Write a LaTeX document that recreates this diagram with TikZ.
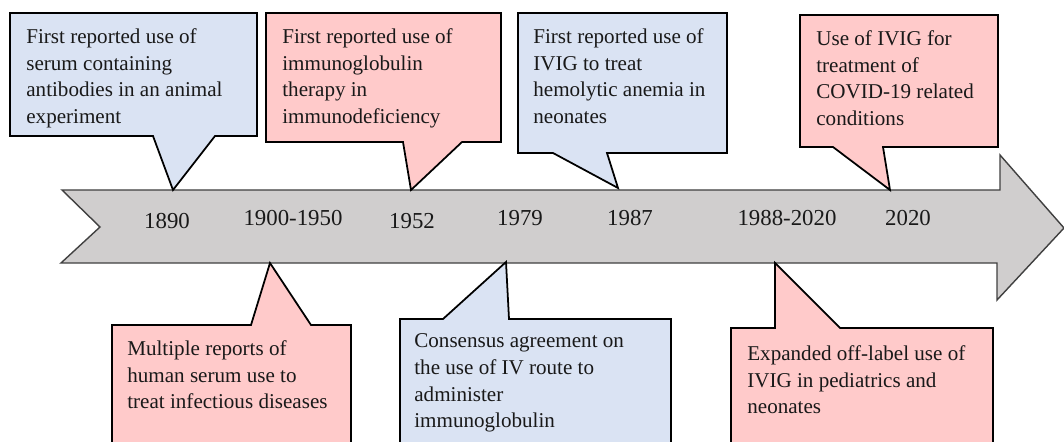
\documentclass[tikz,border=0pt]{standalone}
\usepackage{fontspec}
\setmainfont{Liberation Serif}
\definecolor{eventblue}{RGB}{218,227,243}
\definecolor{eventpink}{RGB}{255,202,202}
\definecolor{axisgray}{RGB}{208,206,206}
\tikzset{
    callout/.style={draw=black, line width=1pt, line join=miter},
    eventtext/.style={anchor=north west, inner sep=0pt, align=left, text=black!90,
        font=\fontsize{12}{15.3}\selectfont},
    yearlabel/.style={text=black!90, font=\fontsize{13}{15}\selectfont}
}

\begin{document}
\begin{tikzpicture}[x=0.02cm, y=-0.02cm]
    \useasboundingbox (0,0) rectangle (1064,442);
    \clip (0,0) rectangle (1064,442);

    % Timeline arrow
    \draw[fill=axisgray, draw=black!75, line width=0.8pt]
        (62,190) -- (1000,190) -- (1000,155) -- (1064,228) -- (997,300)
        -- (997,263) -- (61,263) -- (100,227) -- cycle;

    % Years
    \node[yearlabel] (y1890) at (167,221) {1890};
    \node[yearlabel] (y1900) at (293,218) {1900-1950};
    \node[yearlabel] (y1952) at (412,221) {1952};
    \node[yearlabel] (y1979) at (520,218) {1979};
    \node[yearlabel] (y1987) at (630,218) {1987};
    \node[yearlabel] (y1988) at (787,218) {1988-2020};
    \node[yearlabel] (y2020) at (908,218) {2020};

    % Events above the arrow
    \draw[callout, fill=eventblue] (10,13) -- (257,13) -- (257,136) -- (215,136)
        -- (173,190) -- (153,136) -- (10,136) -- cycle;
    \node[eventtext] (ev1890) at (26,28)
        {First reported use of\\serum containing\\antibodies in an animal\\experiment};

    \draw[callout, fill=eventpink] (266,13) -- (501,13) -- (501,142) -- (462,142)
        -- (411,190) -- (403,142) -- (266,142) -- cycle;
    \node[eventtext] (ev1952) at (282,28)
        {First reported use of\\immunoglobulin\\therapy in\\immunodeficiency};

    \draw[callout, fill=eventblue] (518,13) -- (727,13) -- (727,153) -- (607,153)
        -- (618,188) -- (553,153) -- (518,153) -- cycle;
    \node[eventtext] (ev1987) at (533,28)
        {First reported use of\\IVIG to treat\\hemolytic anemia in\\neonates};

    \draw[callout, fill=eventpink] (800,15) -- (998,15) -- (998,147) -- (883,147)
        -- (890,190) -- (833,147) -- (800,147) -- cycle;
    \node[eventtext] (ev2020) at (816,30)
        {Use of IVIG for\\treatment of\\COVID-19 related\\conditions};

    % Events below the arrow
    \draw[callout, fill=eventpink] (112,460) -- (351,460) -- (351,325) -- (311,325)
        -- (270,263) -- (251,325) -- (112,325) -- cycle;
    \node[eventtext] (ev1900) at (127,340)
        {Multiple reports of\\human serum use to\\treat infectious diseases};

    \draw[callout, fill=eventblue] (400,460) -- (671,460) -- (671,319) -- (509,319)
        -- (506,262) -- (443,319) -- (400,319) -- cycle;
    \node[eventtext] (ev1979) at (414,333)
        {Consensus agreement on\\the use of IV route to\\administer\\immunoglobulin};

    \draw[callout, fill=eventpink] (731,460) -- (993,460) -- (993,328) -- (840,328)
        -- (775,263) -- (775,328) -- (731,328) -- cycle;
    \node[eventtext] (ev1988) at (747,345)
        {Expanded off-label use of\\IVIG in pediatrics and\\neonates};
\end{tikzpicture}
\end{document}
